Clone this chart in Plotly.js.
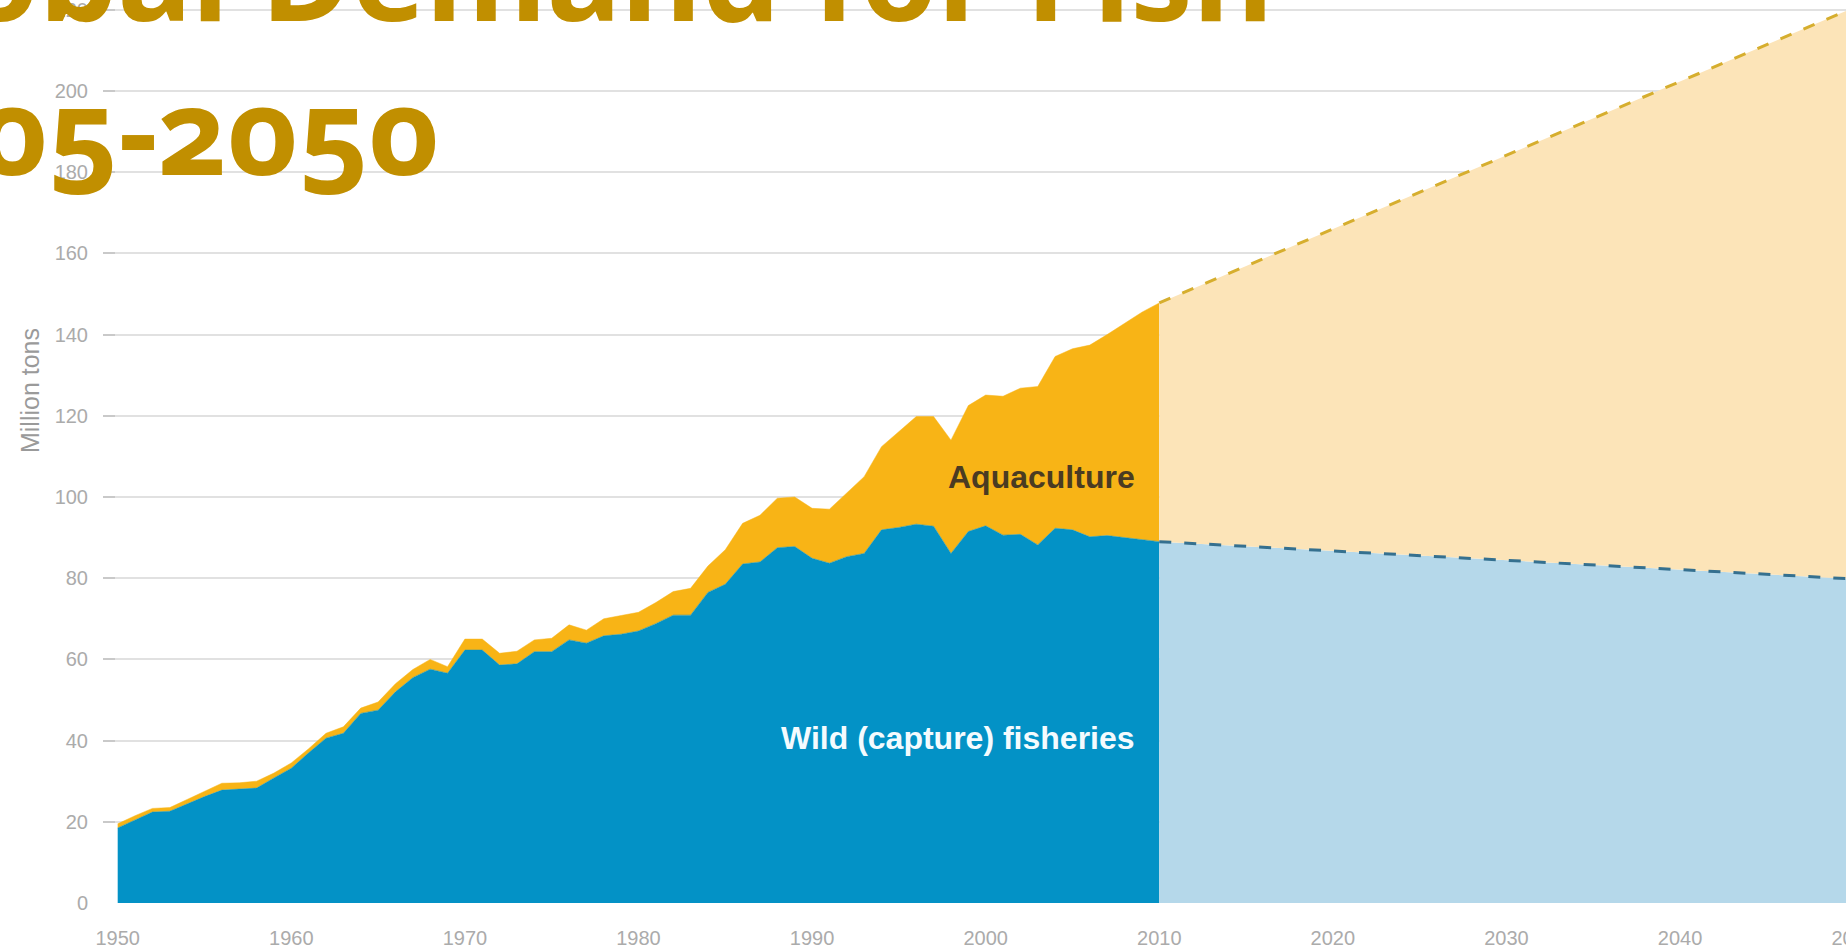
<!DOCTYPE html>
<html>
<head>
<meta charset="utf-8">
<script src="https://cdn.plot.ly/plotly-3.0.1.min.js"></script>
<style>
  html, body { margin: 0; padding: 0; width: 1846px; height: 950px; overflow: hidden; background: #fff; }
  #chart { position: absolute; left: -200px; top: -100px; width: 2100px; height: 1050px; }
  .annotation[data-index="1"] text { font-feature-settings: "onum" 1 !important; font-variant-numeric: oldstyle-nums !important; }
</style>
</head>
<body>
<div id="chart"></div>
<script>
// Historical years
const years = [1950,1951,1952,1953,1954,1955,1956,1957,1958,1959,
               1960,1961,1962,1963,1964,1965,1966,1967,1968,1969,
               1970,1971,1972,1973,1974,1975,1976,1977,1978,1979,
               1980,1981,1982,1983,1984,1985,1986,1987,1988,1989,
               1990,1991,1992,1993,1994,1995,1996,1997,1998,1999,
               2000,2001,2002,2003,2004,2005,2006,2007,2008,2009,2010];
// Wild (capture) fisheries, million tons
const wild = [18.5,20.5,22.4,22.6,24.5,26.2,27.8,28.0,28.3,30.8,
              33.2,37.0,40.6,41.8,46.7,47.5,52.0,55.5,57.6,56.6,
              62.3,62.3,58.6,58.9,61.9,61.9,64.8,64.0,65.8,66.2,
              67.0,68.8,70.9,70.9,76.5,78.5,83.5,84.0,87.5,87.8,
              84.9,83.7,85.3,86.1,91.9,92.5,93.3,92.8,86.1,91.5,
              92.9,90.6,90.8,88.2,92.3,91.9,90.2,90.5,90.0,89.6,89.0];
// Total (wild + aquaculture), million tons
const total = [19.5,21.5,23.3,23.5,25.5,27.5,29.5,29.6,30.0,32.0,
               34.5,38.0,41.8,43.4,48.0,49.5,54.0,57.5,60.0,58.2,
               65.0,65.0,61.5,62.0,64.8,65.2,68.5,67.2,70.0,70.8,
               71.6,74.0,76.7,77.5,83.0,87.0,93.5,95.5,99.7,100.0,
               97.2,97.0,100.9,105.0,112.4,116.0,119.8,119.8,114.0,122.5,
               125.1,124.8,126.8,127.2,134.6,136.5,137.4,140.0,142.8,145.5,147.8];
// Projection 2010-2050
const projYears = [2010, 2050];
const projWild = [89.0, 79.8];
const projTotal = [147.8, 220.5];
// Axis ticks
const yTicks = [0,20,40,60,80,100,120,140,160,180,200,220];
const xTicks = [1950,1960,1970,1980,1990,2000,2010,2020,2030,2040,2050];

const BLUE = '#0392C6', GOLD = '#F8B416', LBLUE = '#B5D8EA', PEACH = '#FCE4B8';
const TICKFONT = { family: 'Liberation Sans, Arial, sans-serif', size: 20, color: '#ababab' };

const traces = [
  { x: years, y: wild, type: 'scatter', mode: 'lines', fill: 'tozeroy',
    fillcolor: BLUE, line: { color: BLUE, width: 0.5 }, name: 'Wild (capture) fisheries' },
  { x: years, y: total, type: 'scatter', mode: 'lines', fill: 'tonexty',
    fillcolor: GOLD, line: { color: GOLD, width: 0.5 }, name: 'Aquaculture' },
  { x: projYears, y: projWild, type: 'scatter', mode: 'lines', fill: 'tozeroy',
    fillcolor: LBLUE, line: { color: LBLUE, width: 0 }, name: 'Wild projection' },
  { x: projYears, y: projTotal, type: 'scatter', mode: 'lines', fill: 'tonexty',
    fillcolor: PEACH, line: { color: PEACH, width: 0 }, name: 'Aquaculture projection' },
  { x: projYears, y: projWild, type: 'scatter', mode: 'lines',
    line: { color: '#35708F', width: 3, dash: '12px,13px' }, name: 'Wild projection line' },
  { x: projYears, y: projTotal, type: 'scatter', mode: 'lines',
    line: { color: '#D6AE2E', width: 3, dash: '12px,13px' }, name: 'Total projection line' }
];

const layout = {
  width: 2100, height: 1050,
  margin: { l: 303, r: 0, t: 100, b: 47 },
  paper_bgcolor: '#ffffff', plot_bgcolor: '#ffffff',
  showlegend: false, hovermode: false,
  font: { family: 'Liberation Sans, Arial, sans-serif' },
  xaxis: {
    range: [1949.153, 2052.67], tickvals: xTicks, ticktext: xTicks.map(String),
    showgrid: false, zeroline: false, showline: false, ticks: '',
    ticklabelstandoff: 21, tickfont: TICKFONT
  },
  yaxis: {
    range: [0, 222.4], tickvals: yTicks, ticktext: yTicks.map(String),
    showgrid: true, gridcolor: '#e1e1e1', gridwidth: 2, zeroline: false,
    ticks: 'inside', ticklen: 12, tickwidth: 2, tickcolor: '#c9c9c9',
    ticklabelstandoff: 14, tickfont: TICKFONT
  },
  annotations: [
    { text: 'Global Demand for Fish', xref: 'paper', yref: 'paper', x: -0.1503, y: 1.030,
      xanchor: 'left', yanchor: 'middle', showarrow: false,
      font: { family: 'Noto Sans, Open Sans, sans-serif', size: 124, weight: 700, color: '#C18F00' } },
    { text: '2005-2050', xref: 'paper', yref: 'paper', x: -0.1464, y: 0.858,
      xanchor: 'left', yanchor: 'middle', showarrow: false,
      font: { family: 'Noto Sans, Open Sans, sans-serif', size: 121, weight: 700, color: '#C18F00' } },
    { text: 'Aquaculture', x: 2008.7, y: 105, xref: 'x', yref: 'y',
      xanchor: 'right', yanchor: 'middle', showarrow: false,
      font: { family: 'Liberation Sans, Arial, sans-serif', size: 32, weight: 700, color: '#4A3B22' } },
    { text: 'Wild (capture) fisheries', x: 2008.7, y: 40.6, xref: 'x', yref: 'y',
      xanchor: 'right', yanchor: 'middle', showarrow: false,
      font: { family: 'Liberation Sans, Arial, sans-serif', size: 32, weight: 700, color: '#F4FBFE' } },
    { text: 'Million tons', xref: 'paper', yref: 'paper', x: -0.0406, y: 0.567,
      xanchor: 'center', yanchor: 'middle', textangle: -90, showarrow: false,
      font: { family: 'Liberation Sans, Arial, sans-serif', size: 25, color: '#9a9a9a' } }
  ]
};

Plotly.newPlot('chart', traces, layout, { displayModeBar: false, staticPlot: true });
</script>
</body>
</html>
